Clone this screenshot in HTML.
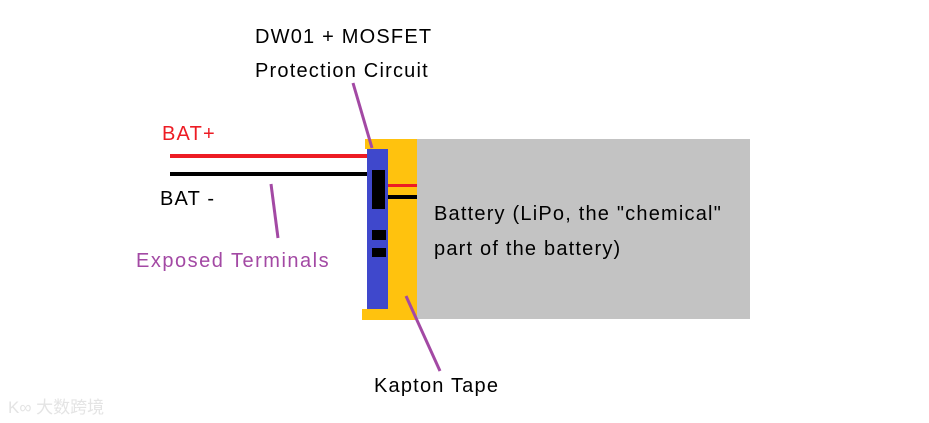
<!DOCTYPE html>
<html><head><style>
body{margin:0;width:929px;height:423px;background:#fff;overflow:hidden;position:relative;font-family:"Liberation Sans","Noto Sans CJK SC",sans-serif}
.r{position:absolute}
.t{position:absolute;font-size:20px;white-space:nowrap;letter-spacing:1.2px}
</style></head><body>
<div class="r" style="left:417px;top:139px;width:333px;height:180px;background:#c3c3c3"></div>
<div class="r" style="left:365px;top:139px;width:52px;height:10px;background:#ffc20e"></div>
<div class="r" style="left:388px;top:139px;width:29px;height:181px;background:#ffc20e"></div>
<div class="r" style="left:362px;top:309px;width:55px;height:11px;background:#ffc20e"></div>
<div class="r" style="left:367px;top:149px;width:21px;height:160px;background:#3f48cc"></div>
<div class="r" style="left:372px;top:170px;width:13px;height:39px;background:#000"></div>
<div class="r" style="left:372px;top:230px;width:14px;height:10px;background:#000"></div>
<div class="r" style="left:372px;top:248px;width:14px;height:9px;background:#000"></div>
<div class="r" style="left:170px;top:154px;width:197px;height:4px;background:#ed1c24"></div>
<div class="r" style="left:170px;top:172px;width:197px;height:4px;background:#000"></div>
<div class="r" style="left:388px;top:184px;width:29px;height:3px;background:#ed1c24"></div>
<div class="r" style="left:388px;top:195px;width:29px;height:4px;background:#000"></div>
<svg class="r" style="left:0;top:0" width="929" height="423">
<g stroke="#a349a4" stroke-width="3">
<line x1="353" y1="83" x2="372" y2="148"/>
<line x1="271" y1="184" x2="278" y2="238"/>
<line x1="406" y1="296" x2="440" y2="371"/>
</g></svg>
<div class="t" style="left:255px;top:26px">DW01 + MOSFET</div>
<div class="t" style="left:255px;top:60px">Protection Circuit</div>
<div class="t" style="left:162px;top:123px;color:#ed1c24">BAT+</div>
<div class="t" style="left:160px;top:188px">BAT -</div>
<div class="t" style="left:136px;top:250px;color:#a349a4;letter-spacing:1.5px">Exposed Terminals</div>
<div class="t" style="left:434px;top:203px">Battery (LiPo, the "chemical"</div>
<div class="t" style="left:434px;top:238px">part of the battery)</div>
<div class="t" style="left:374px;top:375px">Kapton Tape</div>
<div class="t" style="left:8px;top:393px;color:#e4e4e4;font-size:17px;letter-spacing:0">K∞ 大数跨境</div>
</body></html>
